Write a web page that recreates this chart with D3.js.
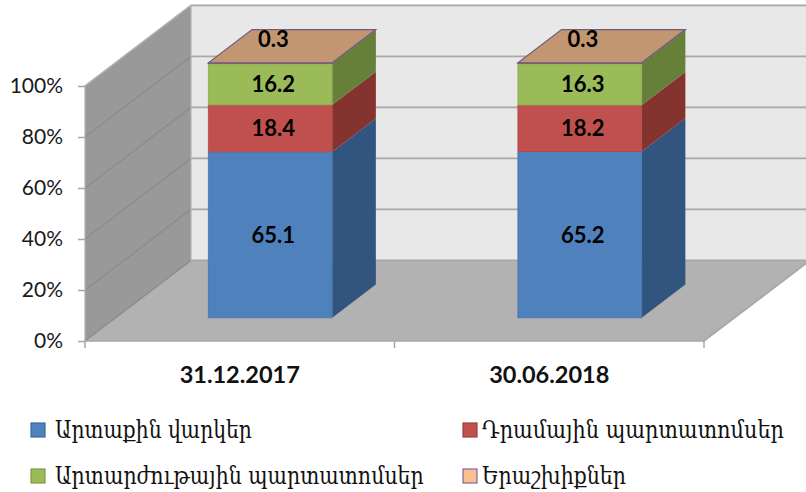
<!DOCTYPE html>
<html>
<head>
<meta charset="utf-8">
<script src="https://cdn.jsdelivr.net/npm/d3@7"></script>
<style>
html, body { margin: 0; padding: 0; background: #fff; }
svg { display: block; }
</style>
</head>
<body>
<div id="chart"></div>
<script>
// DATA
var dates = ["31.12.2017", "30.06.2018"];
var seriesNames = ["Արտաքին վարկեր", "Դրամային պարտատոմսեր", "Արտարժութային պարտատոմսեր", "Երաշխիքներ"];
var external = [65.1, 65.2];
var dram = [18.4, 18.2];
var foreign = [16.2, 16.3];
var guarantees = [0.3, 0.3];
var yTicks = [0, 20, 40, 60, 80, 100];

// colours
var front = ["#4f81bd", "#c0504d", "#9bbb59", "#8a6a8c"];
var side = ["#32557f", "#84332f", "#66803a", "#6d5a7c"];
var swatch = ["#4f81bd", "#c0504d", "#9bbb59", "#fac090"];
var swatchEdge = ["#3a6a9e", "#a03c39", "#7d9a45", "#8064a2"];
var topColor = "#c19670";
var grid = "#a8a8a8";
var wallGrid = "#8c8c8c";

var w = 806, h = 492;
var sans = "Lato, 'Open Sans', sans-serif";
var depthX = 106, depthY = 80.6;      // 3d box offset, front plane to back wall
var barFront = 0.288, barBack = 0.7;

var x = d3.scaleBand().domain(dates).range([85, 704]).paddingInner(0.6).paddingOuter(0.3);
var y = d3.scaleLinear().domain([0, 100]).range([341, 86]);

// front plane coordinates pushed back by z (0..1)
function px(v, z) { return v + depthX * z; }
function py(v, z) { return v - depthY * z; }
function pts(a) { return a.map(function(p) { return p.join(","); }).join(" "); }

var svg = d3.select("#chart").append("svg").attr("width", w).attr("height", h);

// back wall, side wall and floor
svg.append("polygon").attr("fill", "#e8e8e8")
	.attr("points", pts([[px(85, 1), py(y(100), 1)], [px(704, 1), py(y(100), 1)], [px(704, 1), py(y(0), 1)], [px(85, 1), py(y(0), 1)]]));
svg.append("polygon").attr("fill", "#999999")
	.attr("points", pts([[85, y(100)], [px(85, 1), py(y(100), 1)], [px(85, 1), py(y(0), 1)], [85, y(0)]]));
svg.append("polygon").attr("fill", "#b2b2b2")
	.attr("points", pts([[85, y(0)], [704, y(0)], [px(704, 1), py(y(0), 1)], [px(85, 1), py(y(0), 1)]]));

// gridlines, side wall part then back wall part
svg.selectAll("line.wall")
	.data(yTicks)
	.enter()
	.append("line")
	.attr("class", "wall")
	.attr("x1", 85)
	.attr("y1", function(d) { return y(d); })
	.attr("x2", px(85, 1))
	.attr("y2", function(d) { return py(y(d), 1); })
	.attr("stroke", wallGrid)
	.attr("stroke-width", 1.4);
svg.selectAll("line.grid")
	.data(yTicks)
	.enter()
	.append("line")
	.attr("class", "grid")
	.attr("x1", px(85, 1))
	.attr("y1", function(d) { return py(y(d), 1); })
	.attr("x2", px(704, 1))
	.attr("y2", function(d) { return py(y(d), 1); })
	.attr("stroke", grid)
	.attr("stroke-width", 1.6);
svg.append("path").attr("fill", "none").attr("stroke", "#a6a6a6").attr("stroke-width", 1.6)
	.attr("d", "M85," + y(0) + "L704," + y(0) + "L" + px(704, 1) + "," + py(y(0), 1));
svg.append("path").attr("fill", "none").attr("stroke", "#b4b4b4").attr("stroke-width", 1.2)
	.attr("d", "M85," + y(0) + "V" + y(100) + "L" + px(85, 1) + "," + py(y(100), 1) + "V" + py(y(0), 1));

// axes
var yAxis = d3.axisLeft(y).tickValues(yTicks).tickSize(7).tickFormat(function(d) { return d + "%"; });
var yG = svg.append("g").attr("transform", "translate(85,0)").call(yAxis);
yG.select(".domain").attr("stroke", "#a6a6a6");
yG.selectAll("line").attr("stroke", "#a6a6a6").attr("stroke-width", 1.5);
yG.selectAll("text").attr("x", -22).attr("fill", "#1a1a1a").style("font", "21px " + sans);

svg.selectAll("line.xtick")
	.data([0, 1, 2])
	.enter()
	.append("line")
	.attr("class", "xtick")
	.attr("x1", function(d) { return 85 + x.step() * d; })
	.attr("x2", function(d) { return 85 + x.step() * d; })
	.attr("y1", y(0))
	.attr("y2", y(0) + 7)
	.attr("stroke", "#a6a6a6")
	.attr("stroke-width", 1.5);

svg.selectAll("text.cat")
	.data(dates)
	.enter()
	.append("text")
	.attr("class", "cat")
	.attr("x", function(d) { return x(d) + x.bandwidth() / 2; })
	.attr("y", 383)
	.attr("text-anchor", "middle")
	.attr("fill", "#111")
	.style("font", "bold 23.5px " + sans)
	.text(function(d) { return d; });

// stacks
var rows = dates.map(function(d, i) {
	return { date: d, a: external[i], b: dram[i], c: foreign[i], d: guarantees[i] };
});
var layers = d3.stack().keys(["a", "b", "c", "d"])(rows);

var bars = svg.append("g");
layers.forEach(function(layer, k) {
	layer.forEach(function(seg) {
		var l = x(seg.data.date), r = l + x.bandwidth();
		var y0 = y(seg[0]), y1 = y(seg[1]);
		bars.append("polygon")
			.attr("fill", side[k])
			.attr("points", pts([[px(r, barFront), py(y0, barFront)], [px(r, barBack), py(y0, barBack)], [px(r, barBack), py(y1, barBack)], [px(r, barFront), py(y1, barFront)]]));
		bars.append("polygon")
			.attr("fill", front[k])
			.attr("stroke", d3.color(front[k]).darker(0.3))
			.attr("stroke-width", 0.8)
			.attr("points", pts([[px(l, barFront), py(y0, barFront)], [px(r, barFront), py(y0, barFront)], [px(r, barFront), py(y1, barFront)], [px(l, barFront), py(y1, barFront)]]));
		if (k === 3) {
			bars.append("polygon")
				.attr("fill", topColor)
				.attr("stroke", "#6f5a80")
				.attr("stroke-width", 1.2)
				.attr("points", pts([[px(l, barFront), py(y1, barFront)], [px(r, barFront), py(y1, barFront)], [px(r, barBack), py(y1, barBack)], [px(l, barBack), py(y1, barBack)]]));
		}
		var ly = k === 3 ? 39 + 8 : py((y0 + y1) / 2, barFront) + 8;
		svg.append("text")
			.attr("x", (l + r) / 2 + px(0, barFront) + 3)
			.attr("y", ly)
			.attr("text-anchor", "middle")
			.attr("fill", "#000")
			.style("font", "bold 22px " + sans)
			.text(seg.data[["a", "b", "c", "d"][k]]);
	});
});

// legend
var legendCols = [31, 463], legendRows = [430, 476];
var legendWidths = [197, 302, 369, 144];
var legend = svg.selectAll("g.legend")
	.data(seriesNames)
	.enter()
	.append("g")
	.attr("class", "legend")
	.attr("transform", function(d, i) { return "translate(" + legendCols[i % 2] + "," + legendRows[Math.floor(i / 2)] + ")"; });
legend.append("rect")
	.attr("x", 0).attr("y", -7).attr("width", 14).attr("height", 14)
	.attr("fill", function(d, i) { return swatch[i]; })
	.attr("stroke", function(d, i) { return swatchEdge[i]; })
	.attr("stroke-width", 1.2);
// narrow glyphs in the reference, so squeeze each label to its measured width
legend.append("text")
	.attr("fill", "#111")
	.style("font", "25px 'DejaVu Serif', serif")
	.text(function(d) { return d; })
	.attr("transform", function(d, i) {
		var sx = legendWidths[i] / this.getComputedTextLength();
		return "translate(" + (i % 2 ? 19 : 24) + ",8) scale(" + sx + ",1)";
	});
</script>
</body>
</html>
